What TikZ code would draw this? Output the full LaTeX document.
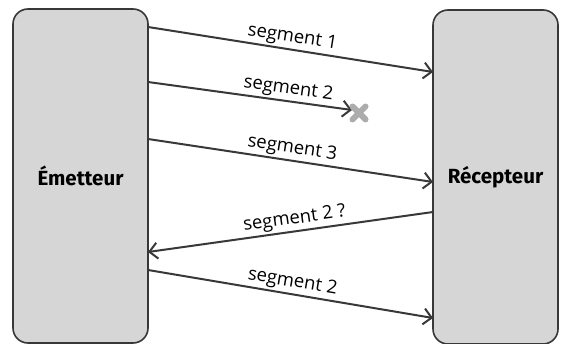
\documentclass[tikz,border=0pt]{standalone}
\usepackage{fontspec}
\setmainfont{Open Sans}
\newfontfamily\boxfont{Fira Sans}
\usetikzlibrary{arrows.meta,calc}
\definecolor{boxfill}{gray}{0.84}
\definecolor{linecol}{gray}{0.22}
\tikzset{
  hostbox/.style={draw=linecol, line width=1.6pt, fill=boxfill, rounded corners=15pt,
    minimum width=#1, minimum height=334pt, inner sep=0pt,
    font=\boxfont\bfseries\fontsize{20.5}{24}\selectfont},
  msg/.style={draw=linecol, line width=2pt, -{Straight Barb[length=8pt, width=16pt, line width=2pt]}},
  seglabel/.style={above, sloped, inner sep=2pt, font=\fontsize{18.5}{22}\selectfont},
  lost/.style={draw=gray!65, line width=6pt, line cap=round}
}
\begin{document}
\begin{tikzpicture}[x=1pt, y=-1pt]
\useasboundingbox (0,0) rectangle (561,344);
\node[hostbox=135pt] (e) at (80.5,176) {Émetteur};
\node[hostbox=125pt] (r) at (495.5,177) {Récepteur};
% border coordinates
\coordinate (e1) at (148,27);
\coordinate (r1) at (433,72);
\coordinate (e2) at (148,82);
\coordinate (x2) at (352,110);
\coordinate (e3) at (148,139);
\coordinate (r3) at (433,182);
\coordinate (r4) at (433,212);
\coordinate (e4) at (148,252);
\coordinate (e5) at (148,270);
\coordinate (r5) at (433,318);
\coordinate (cross) at (359,113);
\draw[msg] (e1) -- node[seglabel] {segment 1} (r1);
\draw[msg] (e2) -- node[seglabel, pos=0.68] {segment 2} (x2);
\draw[msg] (e3) -- node[seglabel] {segment 3} (r3);
\draw[msg] (r4) -- node[seglabel, pos=0.48] {segment 2 ?} (e4);
\draw[msg] (e5) -- node[seglabel] {segment 2} (r5);
\draw[lost] ($(cross)+(-6.5,-6.5)$) -- ($(cross)+(6.5,6.5)$);
\draw[lost] ($(cross)+(-6.5,6.5)$) -- ($(cross)+(6.5,-6.5)$);
\end{tikzpicture}
\end{document}
